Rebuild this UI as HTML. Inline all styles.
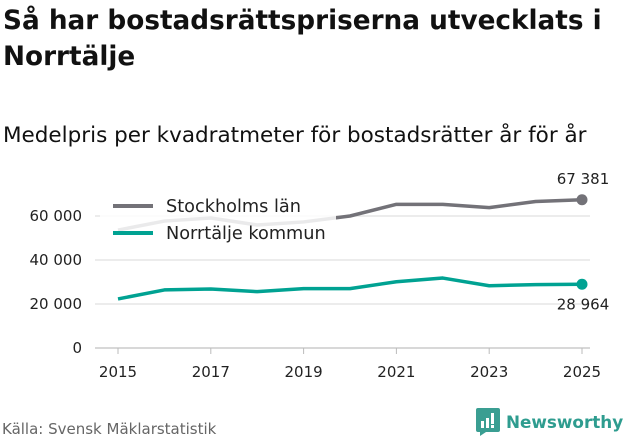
<!DOCTYPE html>
<html><head><meta charset="utf-8"><style>
body{margin:0;width:631px;height:439px;background:#fff;font-family:"DejaVu Sans","Liberation Sans",sans-serif;color:#111;overflow:hidden;position:relative}
h1{position:absolute;left:3px;top:3px;margin:0;font-size:26.3px;line-height:36px;font-weight:bold;width:628px}
.sub{position:absolute;left:3px;top:123px;font-size:21.5px}
.src{position:absolute;left:2px;top:420px;font-size:15px;color:#666}
.logo{position:absolute;left:476px;top:408px;font-size:16.8px;font-weight:bold;color:#2e9c8f;display:flex;align-items:center;gap:6px}
</style></head><body>
<h1>Så har bostadsrättspriserna utvecklats i Norrtälje</h1>
<div class="sub">Medelpris per kvadratmeter för bostadsrätter år för år</div>
<svg id="chart" width="631" height="439" style="position:absolute;left:0;top:0;font-family:'DejaVu Sans',sans-serif"></svg>
<div class="src">Källa: Svensk Mäklarstatistik</div>
<div class="logo"><svg width="24" height="28" viewBox="0 0 24 28"><path d="M2 0h20a2 2 0 0 1 2 2v20a2 2 0 0 1-2 2H10l-6 4v-4H2a2 2 0 0 1-2-2V2a2 2 0 0 1 2-2z" fill="#3a9e92"/><rect x="5" y="13" width="3" height="7" fill="#fff"/><rect x="10" y="10" width="3" height="10" fill="#fff"/><rect x="15" y="5" width="3" height="11" fill="#fff"/><rect x="15" y="17" width="3" height="3" fill="#fff"/></svg><span>Newsworthy</span></div>
<script>
const years=[2015,2016,2017,2018,2019,2020,2021,2022,2023,2024,2025];
const sthlm=[53600,57700,59100,55900,57300,60000,65300,65300,63800,66600,67381];
const norr=[22300,26400,26800,25600,27000,27000,30100,31800,28300,28800,28964];
const yTicks=[0,20000,40000,60000];
const xTicks=[2015,2017,2019,2021,2023,2025];
const svg=document.getElementById('chart');const NS='http://www.w3.org/2000/svg';
const x=v=>118+(v-2015)*46.4;const y=v=>348-v*0.0022;
function mk(t,a){const e=document.createElementNS(NS,t);for(const k in a)e.setAttribute(k,a[k]);svg.appendChild(e);return e;}
const fmt=v=>String(v).replace(/\B(?=(\d{3})+(?!\d))/g,' ');
yTicks.forEach(t=>{const l=mk('line',{x1:95,x2:590,y1:y(t),y2:y(t),stroke:t===0?'#ccc':'#e0e0e0','stroke-width':t===0?1.5:1.2});

const tx=mk('text',{x:82,y:y(t)+5,'text-anchor':'end','font-size':15,fill:'#222'});tx.textContent=fmt(t);
});
xTicks.forEach(t=>{const l=mk('line',{x1:x(t),x2:x(t),y1:348,y2:354,stroke:'#bbb'});

const tx=mk('text',{x:x(t),y:377,'text-anchor':'middle','font-size':15,fill:'#222'});tx.textContent=t;
});
function series(vals,col,name){const p=mk('polyline',{points:vals.map((v,i)=>x(years[i])+','+y(v)).join(' '),fill:'none',stroke:col,'stroke-width':3.5,'stroke-linejoin':'round'});

const c=mk('circle',{cx:x(years[years.length-1]),cy:y(vals[vals.length-1]),r:5.5,fill:col});
}
series(sthlm,'#737278','stockholm');series(norr,'#00a292','norrtalje');
const bg=mk('rect',{x:100,y:193,width:236,height:50,fill:'rgba(255,255,255,0.85)'});

[['Stockholms län','#737278',206],['Norrtälje kommun','#00a292',233]].forEach(([n,c,yy])=>{
const l=mk('line',{x1:113,x2:153,y1:yy,y2:yy,stroke:c,'stroke-width':4});
const t=mk('text',{x:166,y:yy+6,'font-size':17.7,fill:'#222'});t.textContent=n;});
const a=mk('text',{x:583,y:y(sthlm[10])-16,'text-anchor':'middle','font-size':15,fill:'#222'});a.textContent=fmt(sthlm[10]);

const b=mk('text',{x:583,y:y(norr[10])+25,'text-anchor':'middle','font-size':15,fill:'#222'});b.textContent=fmt(norr[10]);

</script>
</body></html>
